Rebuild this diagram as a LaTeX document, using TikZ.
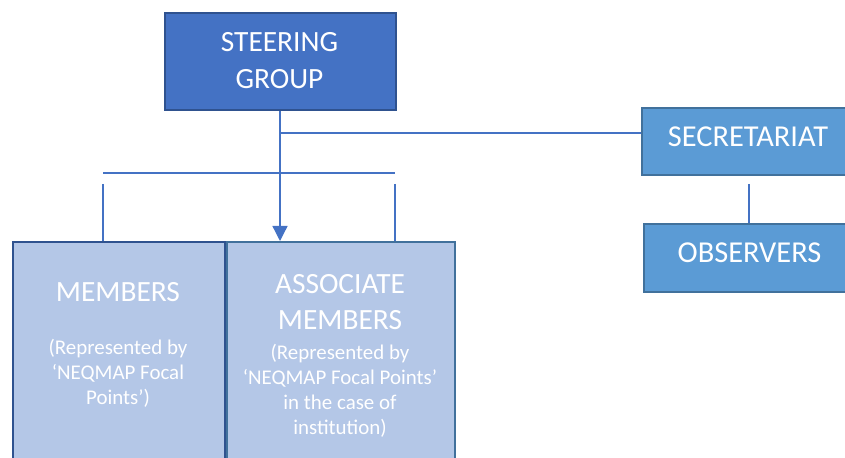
\documentclass[tikz,border=0pt]{standalone}
\usepackage{fontspec}
\setmainfont{Carlito}
\usetikzlibrary{arrows.meta}
\definecolor{darkblue}{HTML}{4472C4}
\definecolor{darkedge}{HTML}{2F528F}
\definecolor{midblue}{HTML}{5B9BD5}
\definecolor{midedge}{HTML}{41719C}
\definecolor{paleblue}{HTML}{B4C7E7}
\tikzset{
  box/.style={draw, line width=2bp, inner sep=0pt, anchor=north west},
  bigtxt/.style={text=white, font=\fontsize{29.5}{37}\selectfont, align=center, inner sep=0pt},
  sidetxt/.style={text=white, font=\fontsize{30.5}{37}\selectfont, align=center, inner sep=0pt},
  smalltxt/.style={text=white, font=\fontsize{21}{25}\selectfont, align=center, inner sep=0pt},
  link/.style={draw=darkblue, line width=1.3bp}
}
\begin{document}
\begin{tikzpicture}[x=1bp,y=-1bp]
\useasboundingbox (0,0) rectangle (845,458);
\clip (0,0) rectangle (845,458);

% boxes
\node[box, fill=darkblue, draw=darkedge, minimum width=231bp, minimum height=97bp] (steer) at (164,12) {};
\node[box, fill=paleblue, draw=darkedge, minimum width=212bp, minimum height=240bp] (memb) at (12,241) {};
\node[box, fill=paleblue, draw=midedge, minimum width=228bp, minimum height=240bp] (assoc) at (226,241) {};
\node[box, fill=midblue, draw=midedge, minimum width=215bp, minimum height=67bp] (secr) at (641,107) {};
\node[box, fill=midblue, draw=midedge, minimum width=215bp, minimum height=68bp] (obs) at (643,223) {};

% labels
\node[bigtxt] (steertxt) at (279.5,61) {STEERING\\GROUP};
\node[sidetxt] (secrtxt) at (748,137) {SECRETARIAT};
\node[sidetxt] (obstxt) at (749.5,253) {OBSERVERS};
\node[bigtxt] (membtxt) at (118,292) {MEMBERS};
\node[smalltxt] (membsub) at (118,373) {(Represented by\\‘NEQMAP Focal\\Points’)};
\node[bigtxt] (assoctxt) at (340,302) {ASSOCIATE\\MEMBERS};
\node[smalltxt] (assocsub) at (340,391) {(Represented by\\‘NEQMAP Focal Points’\\in the case of\\institution)};

% connectors
\coordinate (branch) at (280,133);
\coordinate (barL) at (103,173);
\coordinate (barR) at (395,173);
\coordinate (dropL) at (103,184);
\coordinate (dropR) at (395,184);
\coordinate (obsTop) at (749,184);

\draw[link, -{Triangle[length=15bp,width=15bp]}] (steer.south -| branch) -- (branch |- assoc.north);
\draw[link] (branch) -- (secr.west |- branch);
\draw[link] (barL) -- (barR);
\draw[link] (dropL) -- (dropL |- memb.north);
\draw[link] (dropR) -- (dropR |- assoc.north);
\draw[link] (obsTop) -- (obsTop |- obs.north);
\end{tikzpicture}
\end{document}
